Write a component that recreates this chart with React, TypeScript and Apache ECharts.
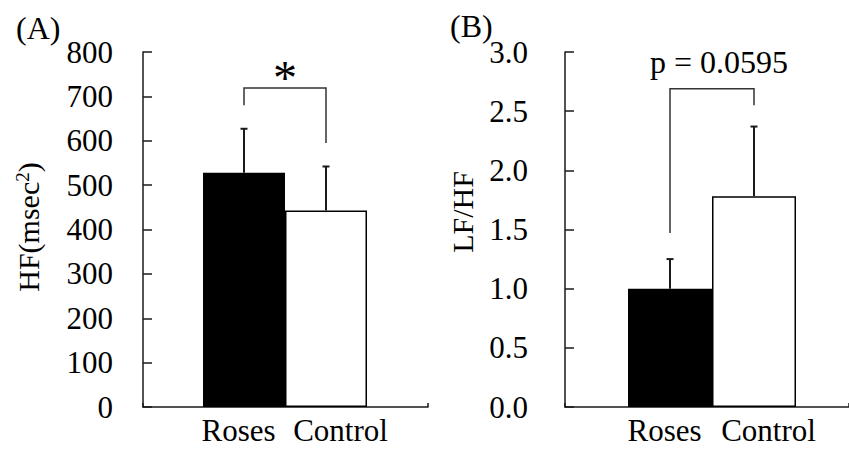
import React, { useEffect, useRef } from "react";
import * as echarts from "echarts";

// ---- data ----
const categories = ["Roses", "Control"];
const barColors = ["#000000", "#ffffff"];

const hfMeans = [528, 443];
const hfSD = [99, 99];
const hfAxis = { min: 0, max: 800, interval: 100 };
const hfBracket = [719, 680, 595]; // top, left leg end, right leg end
const hfSignif = "*";

const lfhfMeans = [1.0, 1.78];
const lfhfSD = [0.25, 0.59];
const lfhfAxis = { min: 0, max: 3, interval: 0.5 };
const lfhfBracket = [2.69, 1.47, 2.55];
const lfhfSignif = "p = 0.0595";

const FONT = '"Liberation Serif", "Times New Roman", serif';
const AXIS_COLOR = "#1a1a1a";
const FS = 31;

function buildOption() {
  const frameGrids = [
    { left: 143, right: 421, top: 52, bottom: 44 },
    { left: 565, right: -4, top: 52, bottom: 44 },
  ];
  const barGrids = [
    { left: 203, right: 849 - 367, top: 52, bottom: 44 },
    { left: 628, right: 849 - 796, top: 52, bottom: 44 },
  ];
  const grids = [...frameGrids, ...barGrids];

  const frameX = (gi: number) => ({
    type: "value",
    gridIndex: gi,
    min: 0,
    max: 1,
    interval: 1,
    axisLine: { show: true, lineStyle: { color: AXIS_COLOR, width: 1.5 } },
    axisTick: { show: true, inside: true, length: 4, lineStyle: { color: AXIS_COLOR, width: 1.5 } },
    axisLabel: { show: false },
    splitLine: { show: false },
  });
  const barX = (gi: number) => ({
    type: "category",
    gridIndex: gi,
    data: [
      { value: categories[0], textStyle: { padding: [0, 11, 0, 0] } },
      { value: categories[1], textStyle: { padding: [0, 0, 0, 29] } },
    ],
    axisLine: { show: false },
    axisTick: { show: false },
    axisLabel: { fontFamily: FONT, fontSize: FS, color: "#000", margin: 8, interval: 0, hideOverlap: false },
  });

  const frameY = (
    gi: number,
    ax: any,
    margin: number,
    name: any,
    nameGap: number,
    shift: number,
    fmt: (v: number) => string
  ) => ({
    type: "value",
    gridIndex: gi,
    min: ax.min,
    max: ax.max,
    interval: ax.interval,
    axisLine: { show: true, lineStyle: { color: AXIS_COLOR, width: 1.5 } },
    axisTick: { show: true, inside: true, length: 9, lineStyle: { color: AXIS_COLOR, width: 1.5 } },
    axisLabel: { fontFamily: FONT, fontSize: FS, color: "#000", margin, formatter: fmt },
    splitLine: { show: false },
    name,
    nameLocation: "middle",
    nameRotate: 90,
    nameGap,
    nameTextStyle: {
      fontFamily: FONT,
      fontSize: 30,
      color: "#000",
      rich: {
        gap: { width: shift, fontSize: 30, color: "#000" },
        a: { fontFamily: FONT, fontSize: 30, color: "#000" },
        sup: { fontFamily: FONT, fontSize: 19, color: "#000", verticalAlign: "top" },
      },
    },
  });
  const hiddenY = (gi: number, ax: any) => ({
    type: "value",
    gridIndex: gi,
    min: ax.min,
    max: ax.max,
    show: false,
  });

  const errorSeries = (axisIdx: number, means: number[], sds: number[]) => ({
    type: "custom",
    xAxisIndex: axisIdx,
    yAxisIndex: axisIdx,
    z: 5,
    data: means.map((m, i) => [i, m, sds[i]]),
    renderItem: (params: any, api: any) => {
      const i = api.value(0);
      const m = api.value(1);
      const sd = api.value(2);
      const p0 = api.coord([i, m]);
      const p1 = api.coord([i, m + sd]);
      const style = { stroke: "#1a1a1a", lineWidth: 2 };
      return {
        type: "group",
        children: [
          { type: "line", shape: { x1: p0[0], y1: p0[1], x2: p1[0], y2: p1[1] }, style },
          { type: "line", shape: { x1: p1[0] - 3.5, y1: p1[1], x2: p1[0] + 3.5, y2: p1[1] }, style },
        ],
      };
    },
  });

  const bracketSeries = (
    axisIdx: number,
    br: number[],
    text: string,
    textSize: number,
    textGap: number,
    textDx: number
  ) => ({
    type: "custom",
    xAxisIndex: axisIdx,
    yAxisIndex: axisIdx,
    z: 5,
    data: [[0, 1, br[0], br[1], br[2]]],
    renderItem: (params: any, api: any) => {
      const a = api.value(0);
      const b = api.value(1);
      const top = api.value(2);
      const pl = api.coord([a, api.value(3)]);
      const plt = api.coord([a, top]);
      const prt = api.coord([b, top]);
      const pr = api.coord([b, api.value(4)]);
      return {
        type: "group",
        children: [
          {
            type: "polyline",
            shape: { points: [pl, plt, prt, pr] },
            style: { stroke: "#333", lineWidth: 1.5, fill: null },
          },
          {
            type: "text",
            x: (plt[0] + prt[0]) / 2 + textDx,
            y: plt[1] - textGap,
            style: {
              text,
              fontFamily: FONT,
              fontSize: textSize,
              fill: "#000",
              align: "center",
              verticalAlign: "middle",
            },
          },
        ],
      };
    },
  });

  return {
    animation: false,
    backgroundColor: "#ffffff",
    title: [
      { text: "(A)", left: 11, top: 7, textStyle: { fontFamily: FONT, fontSize: 32, fontWeight: "normal", color: "#000" } },
      { text: "(B)", left: 445, top: 5, textStyle: { fontFamily: FONT, fontSize: 32, fontWeight: "normal", color: "#000" } },
    ],
    grid: grids,
    xAxis: [frameX(0), frameX(1), barX(2), barX(3)],
    yAxis: [
      frameY(0, hfAxis, 30, "{gap|}{a|HF(msec}{sup|2}{a|)}", 100, 5, (v: number) => String(v)),
      frameY(1, lfhfAxis, 37, "{gap|}{a|LF/HF}", 88, 35, (v: number) => v.toFixed(1)),
      hiddenY(2, hfAxis),
      hiddenY(3, lfhfAxis),
    ],
    series: [
      {
        type: "bar",
        xAxisIndex: 2,
        yAxisIndex: 2,
        barWidth: "100%",
        data: hfMeans.map((v, i) => ({
          value: v,
          itemStyle: { color: barColors[i], borderColor: "#000", borderWidth: i === 0 ? 0 : 1.5 },
        })),
      },
      {
        type: "bar",
        xAxisIndex: 3,
        yAxisIndex: 3,
        barWidth: "100%",
        data: lfhfMeans.map((v, i) => ({
          value: v,
          itemStyle: { color: barColors[i], borderColor: "#000", borderWidth: i === 0 ? 0 : 1.5 },
        })),
      },
      errorSeries(2, hfMeans, hfSD),
      errorSeries(3, lfhfMeans, lfhfSD),
      bracketSeries(2, hfBracket, hfSignif, 48, 10, 0),
      bracketSeries(3, lfhfBracket, lfhfSignif, 32, 27, 7),
    ],
  };
}

export default function App() {
  const ref = useRef<HTMLDivElement>(null);
  useEffect(() => {
    if (!ref.current) return;
    const chart = echarts.init(ref.current, undefined, { renderer: "svg" });
    chart.setOption(buildOption() as any);
    return () => chart.dispose();
  }, []);
  return (
    <div
      ref={ref}
      style={{ position: "fixed", left: 0, top: 0, width: 849, height: 451, background: "#fff" }}
    />
  );
}
